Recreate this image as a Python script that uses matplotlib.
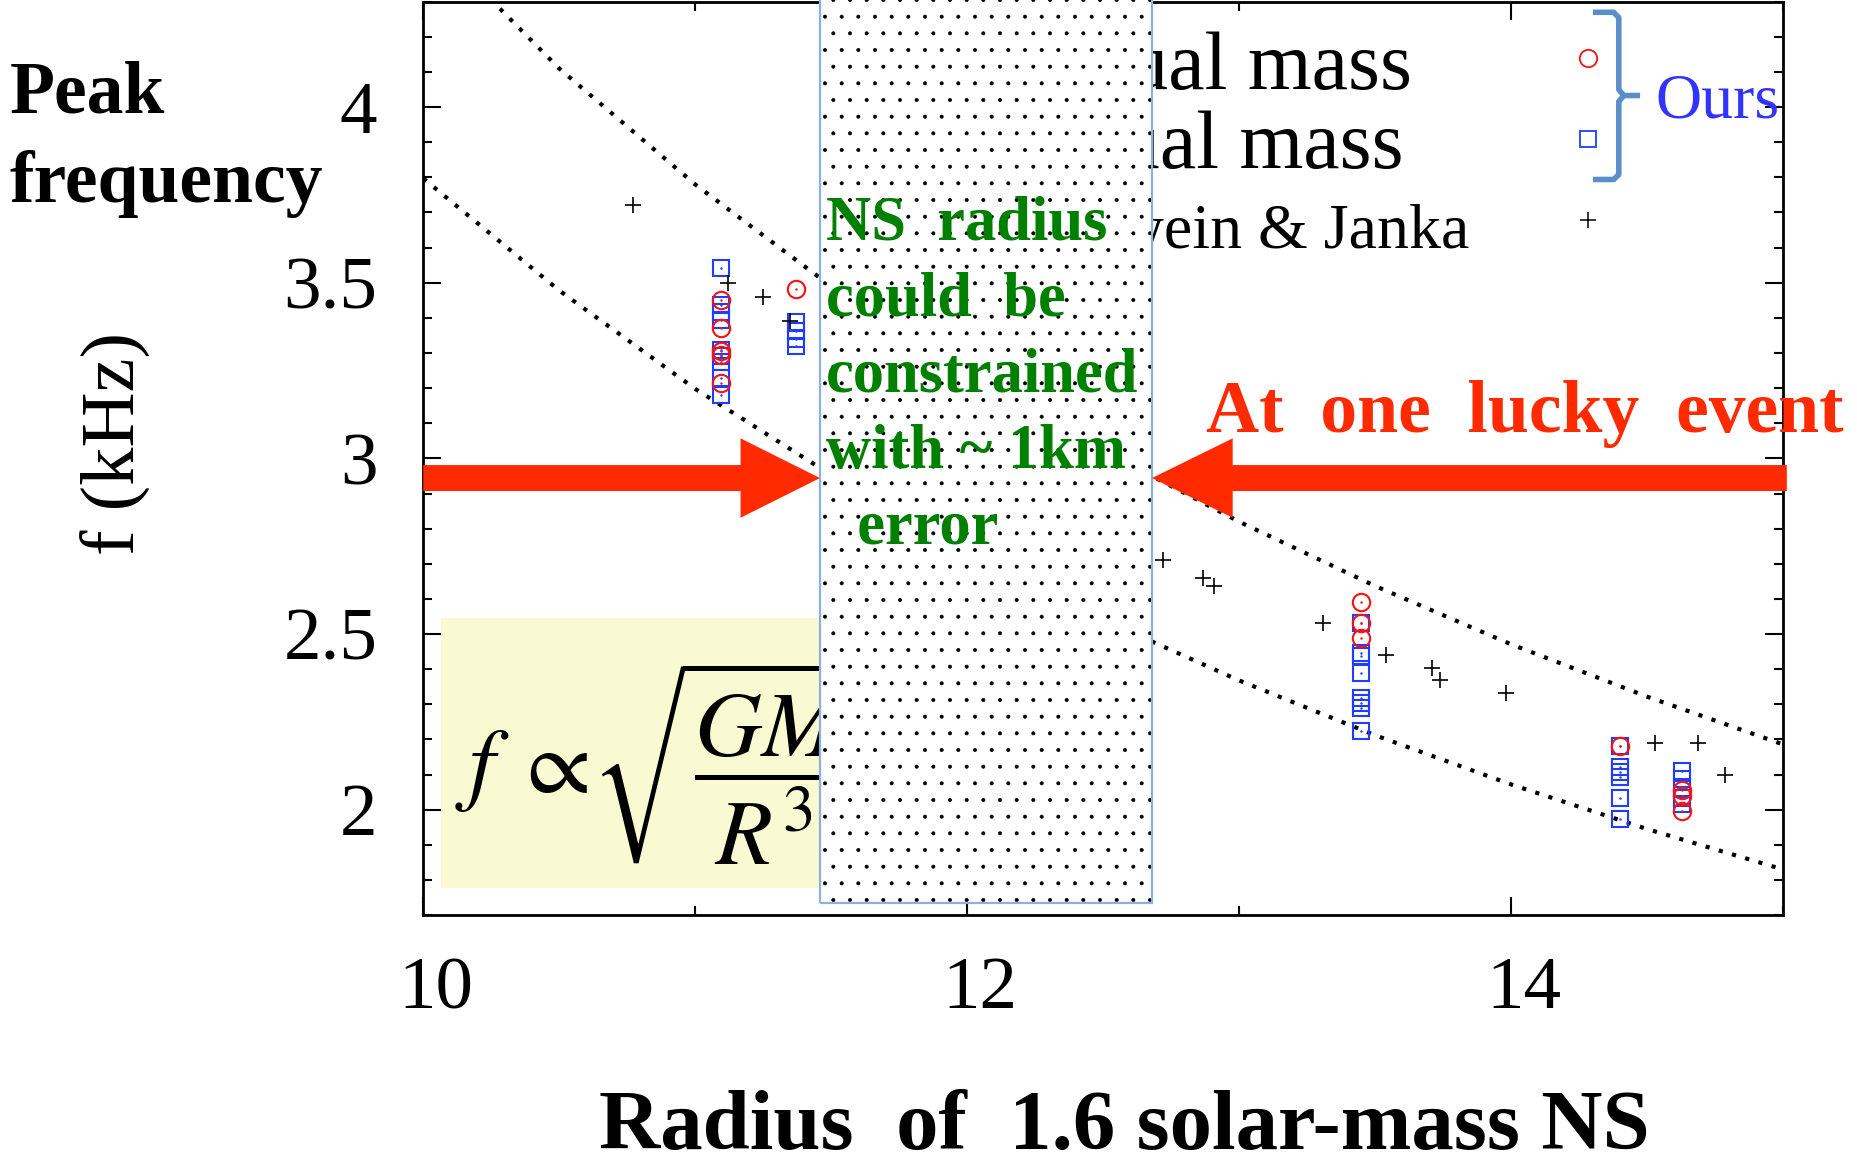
import matplotlib
matplotlib.use("Agg")
import matplotlib.pyplot as plt
from matplotlib.patches import Rectangle, FancyArrow
from matplotlib.ticker import MultipleLocator
from matplotlib.transforms import ScaledTranslation

plt.rcParams['font.family'] = ['Liberation Serif', 'DejaVu Serif']
plt.rcParams['mathtext.fontset'] = 'stix'
plt.rcParams['hatch.linewidth'] = 0.4

# equal-mass runs (red circles)
equal_r = [11.094, 11.094, 11.094, 11.094, 11.094, 11.371,
           13.449, 13.449, 13.449, 14.401, 14.630, 14.630, 14.630]
equal_f = [3.450, 3.370, 3.307, 3.293, 3.215, 3.481,
           2.591, 2.532, 2.488, 2.182, 2.057, 2.038, 1.995]

# unequal-mass runs (blue squares)
unequal_r = [11.094] * 9 + [11.371] * 4 + [13.449] * 8 + [14.401] * 6 + [14.630] * 5
unequal_f = [3.541, 3.438, 3.416, 3.393, 3.308, 3.291, 3.274, 3.230, 3.180,
             3.389, 3.362, 3.340, 3.319,
             2.532, 2.447, 2.438, 2.389, 2.318, 2.304, 2.290, 2.223,
             2.182, 2.122, 2.106, 2.092, 2.032, 1.972,
             2.110, 2.086, 2.059, 2.034, 2.017]

# Bauswein & Janka
bj_r = [10.770, 11.122, 11.250, 11.349, 12.722, 12.869, 12.909, 13.310,
        13.540, 13.709, 13.739, 13.981, 14.530, 14.689, 14.789]
bj_f = [3.720, 3.500, 3.460, 3.391, 2.710, 2.660, 2.638, 2.530,
        2.440, 2.402, 2.370, 2.333, 2.190, 2.190, 2.100]

# envelope curves
env_r = [10.0, 10.5, 11.0, 11.5, 12.0, 12.5, 13.0, 13.5, 14.0, 14.5, 15.0]
env_upper = [4.500, 4.110, 3.780, 3.490, 3.252, 3.023, 2.820, 2.637, 2.471, 2.322, 2.186]
env_lower = [3.797, 3.478, 3.198, 2.953, 2.735, 2.541, 2.368, 2.212, 2.072, 1.945, 1.830]

# radius band and event frequency
band_r = (11.459, 12.680)
band_f = (1.733, 4.31)
event_f = 2.944

fig = plt.figure(figsize=(18.58, 11.59), dpi=100)
ax = fig.add_axes([0.2278, 0.2105, 0.7317, 0.788])
ax.set_xlim(10, 15)
ax.set_ylim(1.70, 4.30)

red = '#ff1010'
blue = '#1f3dff'

ax.plot(env_r, env_upper, color='black', lw=3.0, ls=(0, (1, 2.3)), zorder=2)
ax.plot(env_r, env_lower, color='black', lw=3.0, ls=(0, (1, 2.3)), zorder=2)

ax.plot(unequal_r, unequal_f, ls='none', marker='s', ms=12, mfc='none',
        mec=blue, mew=1.5, zorder=4)
ax.plot(unequal_r, unequal_f, ls='none', marker='.', ms=1.5, color=blue, zorder=4)
ax.plot(equal_r, equal_f, ls='none', marker='o', ms=12.5, mfc='none',
        mec=red, mew=1.5, zorder=5)
ax.plot(equal_r, equal_f, ls='none', marker='.', ms=1.5, color=red, zorder=5)
ax.plot(bj_r, bj_f, ls='none', marker='+', ms=12, color='black', mew=1.2, zorder=4)

# legend entries, partly hidden behind the band
leg_r = 14.283
ax.plot([leg_r], [4.139], ls='none', marker='o', ms=12.5, mfc='none', mec=red, mew=1.3)
ax.plot([leg_r], [3.910], ls='none', marker='s', ms=12, mfc='none', mec=blue, mew=1.3)
ax.plot([leg_r], [3.680], ls='none', marker='+', ms=12, color='black', mew=1.1)
ax.text(13.637, 4.053, 'Equal mass', fontsize=59, ha='right', va='baseline', zorder=3)
ax.text(13.604, 3.826, 'Unequal mass', fontsize=59, ha='right', va='baseline', zorder=3)
ax.text(13.846, 3.600, 'Bauswein & Janka', fontsize=46, ha='right', va='baseline', zorder=3)

brace_color = '#5b8ec8'
ax.plot([14.312, 14.378, 14.397, 14.397, 14.415, 14.465],
        [4.270, 4.270, 4.255, 4.050, 4.033, 4.033],
        color=brace_color, lw=4, solid_joinstyle='round', clip_on=False, zorder=3)
ax.plot([14.415, 14.397, 14.397, 14.378, 14.312],
        [4.033, 4.016, 3.808, 3.794, 3.794],
        color=brace_color, lw=4, solid_joinstyle='round', clip_on=False, zorder=3)
ax.text(14.53, 3.970, 'Ours', fontsize=46, color='#3333ff', ha='left', va='baseline')

# formula box
ax.add_patch(Rectangle((10.066, 1.777), band_r[0] - 10.066 + 0.3, 2.545 - 1.777,
                       facecolor='#fafad2', edgecolor='none', zorder=1))
ax.text(10.115, 2.045, r'$f\;\propto\!\sqrt{\dfrac{GM}{R^3}}$', fontsize=67,
        ha='left', va='baseline', zorder=1.5)

# dotted band for the radius constraint
ax.add_patch(Rectangle((band_r[0], band_f[0]), band_r[1] - band_r[0], band_f[1] - band_f[0],
                       facecolor='white', edgecolor='black', hatch='.', lw=0,
                       clip_on=False, zorder=6))
ax.add_patch(Rectangle((band_r[0], band_f[0]), band_r[1] - band_r[0], band_f[1] - band_f[0],
                       fill=False, edgecolor='#8db1dc', lw=1.6, clip_on=False, zorder=6.5))

green_lines = ['NS  radius', 'could  be', 'constrained', 'with ~ 1km', '  error']
for i, line in enumerate(green_lines):
    ax.text(11.480, 3.623 - 0.2164 * i, line, fontsize=45, fontweight='bold',
            color='#008000', ha='left', va='baseline', zorder=7)

# arrows pointing at the band
arrow_red = '#ff2a00'
ax.add_patch(FancyArrow(10.0, event_f, band_r[0] - 10.0, 0, width=0.074,
                        head_width=0.226, head_length=0.292, length_includes_head=True,
                        color=arrow_red, lw=0, clip_on=False, zorder=8))
ax.add_patch(FancyArrow(15.015, event_f, band_r[1] - 15.015, 0, width=0.074,
                        head_width=0.226, head_length=0.297, length_includes_head=True,
                        color=arrow_red, lw=0, clip_on=False, zorder=8))
ax.text(12.879, 3.074, 'At  one  lucky  event', fontsize=53, fontweight='bold',
        color=arrow_red, ha='left', va='baseline', zorder=8)

# axes styling
ax.xaxis.set_major_locator(MultipleLocator(2))
ax.xaxis.set_minor_locator(MultipleLocator(1))
ax.yaxis.set_major_locator(MultipleLocator(0.5))
ax.yaxis.set_minor_locator(MultipleLocator(0.1))
ax.set_yticks([2, 2.5, 3, 3.5, 4])
ax.set_yticklabels(['2', '2.5', '3', '3.5', '4'])
ax.tick_params(which='both', direction='in', top=True, right=True, width=1.5)
ax.tick_params(which='major', length=13, labelsize=54)
ax.tick_params(which='minor', length=6.5)
ax.tick_params(axis='y', pad=33)
ax.tick_params(axis='x', pad=30)
for lab in ax.get_xticklabels():
    lab.set_transform(lab.get_transform() + ScaledTranslation(0.13, 0, fig.dpi_scale_trans))
for sp in ax.spines.values():
    sp.set_linewidth(2)

fig.text(0.605, 0.0086, 'Radius  of  1.6 solar-mass NS', fontsize=61, fontweight='bold',
         ha='center', va='baseline')
fig.text(0.0624, 0.617, 'f (kHz)', fontsize=55, rotation=90, ha='center', va='center')
fig.text(0.005, 1 - 112.6 / 1159, 'Peak', fontsize=53, fontweight='bold', ha='left', va='baseline')
fig.text(0.005, 1 - 201.5 / 1159, 'frequency', fontsize=53, fontweight='bold', ha='left', va='baseline')

fig.savefig('out.png', dpi=100)
